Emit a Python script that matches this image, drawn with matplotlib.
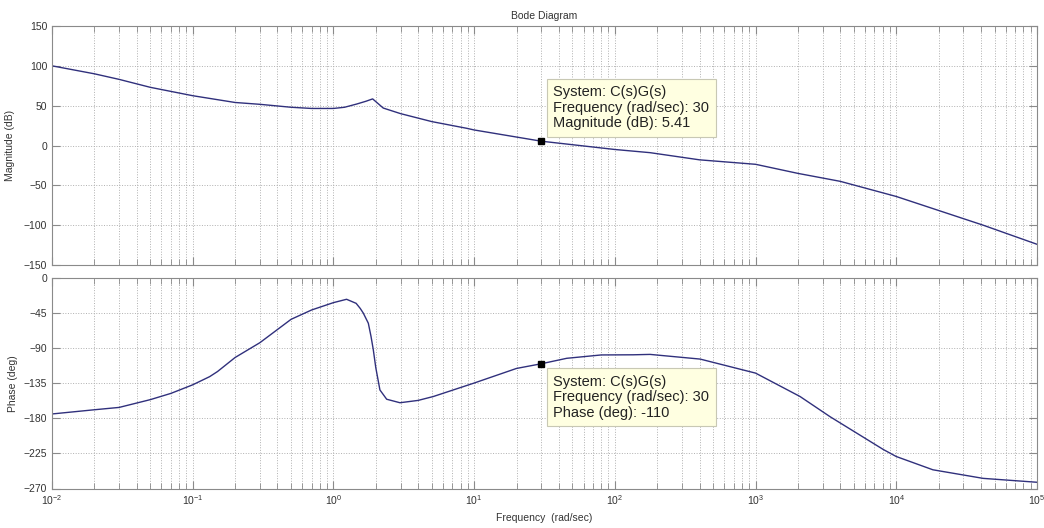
import matplotlib
matplotlib.use("Agg")
import matplotlib.pyplot as plt
from matplotlib.ticker import FixedLocator, NullFormatter

plt.rcParams['font.family'] = ['Liberation Sans', 'DejaVu Sans']
plt.rcParams['mathtext.fontset'] = 'custom'
plt.rcParams['mathtext.rm'] = 'Liberation Sans'
plt.rcParams['mathtext.it'] = 'Liberation Sans'

# magnitude
mag_freq = [0.01, 0.02, 0.03, 0.05, 0.1, 0.2, 0.3, 0.5, 0.7, 1.0, 1.2, 1.46, 1.7, 1.9,
            2.26, 3.0, 5.0, 8.85, 10, 30, 100, 178, 400, 1000, 2000, 4000, 10000,
            41400, 100000]
mag_db = [100, 90, 83, 73, 62.5, 54, 51.7, 48, 46.5, 46.5, 48, 52, 55.5, 58.5,
          47, 40, 30, 21.6, 19.5, 5.41, -5, -9, -18, -23.6, -35, -45, -64,
          -100, -124]

# phase
ph_freq = [0.01, 0.02, 0.03, 0.05, 0.07, 0.1, 0.132, 0.15, 0.2, 0.3, 0.5, 0.7, 1.0,
           1.24, 1.45, 1.55, 1.63, 1.77, 1.85, 1.92, 2.0, 2.14, 2.39, 2.97, 4.0, 5.13,
           9.9, 20, 30, 45.5, 80, 135, 178, 404, 1000, 2070, 3390, 8090, 10000,
           18200, 41400, 100000]
ph_deg = [-174.4, -169, -166, -156, -148, -137, -126.5, -120, -102, -83, -53, -41, -31.6,
          -27.3, -32.5, -39, -45, -58, -75, -92, -115, -143.6, -155.5, -160, -157, -152,
          -135, -116, -110, -103, -98.7, -98.5, -98, -104, -122, -152, -178, -220, -229,
          -246, -257, -262]

decades = [-2, -1, 0, 1, 2, 3, 4]
xtick_labels = [r'$10^{%d}$' % d for d in decades + [5]]

tip_freq = 30
tip_mag = 5.41
tip_phase = -110

line_col = '#30307c'
txt_col = '#333333'
edge_col = '#8a8a8a'

major_x = [10.0 ** d for d in decades + [5]]
minor_x = [k * 10.0 ** d for d in decades for k in range(2, 10)]

fig = plt.figure(figsize=(10.44, 5.28), dpi=100)
ax1 = fig.add_axes([52/1044, 1-265/528, 985/1044, 239/528])
ax2 = fig.add_axes([52/1044, 1-488.5/528, 985/1044, 210.5/528])

for ax in (ax1, ax2):
    ax.set_xscale('log')
    ax.set_xlim(1e-2, 1e5)
    ax.xaxis.set_major_locator(FixedLocator(major_x))
    ax.xaxis.set_minor_locator(FixedLocator(minor_x))
    ax.xaxis.set_minor_formatter(NullFormatter())
    ax.grid(True, which='major', axis='both', linestyle=':', color='#b0b0b0', linewidth=0.7)
    ax.grid(True, which='minor', axis='x', linestyle=':', color='#b0b0b0', linewidth=0.7)
    ax.tick_params(which='both', direction='in', top=True, right=True,
                   colors=edge_col, labelcolor=txt_col, labelsize=7.5)
    ax.tick_params(which='major', length=6)
    ax.tick_params(which='minor', length=4)
    for s in ax.spines.values():
        s.set_color(edge_col)

ax1.plot(mag_freq, mag_db, color=line_col, linewidth=1.0)
ax1.set_ylim(-150, 150)
ax1.set_yticks(range(-150, 151, 50))
ax1.tick_params(labelbottom=False)
ax1.set_ylabel('Magnitude (dB)', fontsize=7.5, color=txt_col, labelpad=6)
ax1.set_title('Bode Diagram', fontsize=7.5, color=txt_col, pad=5)

ax2.plot(ph_freq, ph_deg, color=line_col, linewidth=1.0)
ax2.set_ylim(-270, 0)
ax2.set_yticks(range(-270, 1, 45))
ax2.set_xticklabels(xtick_labels)
ax2.set_ylabel('Phase (deg)', fontsize=7.5, color=txt_col, labelpad=4)
ax2.set_xlabel('Frequency  (rad/sec)', fontsize=7.5, color=txt_col, labelpad=4)

box = dict(boxstyle='square,pad=0.45', facecolor='#ffffe1', edgecolor='#c8c8b4', linewidth=0.8)

ax1.plot([tip_freq], [tip_mag], marker='s', color='black', markersize=5, zorder=5)
ax1.annotate('System: C(s)G(s)\nFrequency (rad/sec): 30\nMagnitude (dB): 5.41',
             xy=(tip_freq, tip_mag), xytext=(8.5, 8), textcoords='offset points',
             fontsize=10.5, color='#222222', va='bottom', ha='left', bbox=box,
             linespacing=1.12, zorder=6)

ax2.plot([tip_freq], [tip_phase], marker='s', color='black', markersize=5, zorder=5)
ax2.annotate('System: C(s)G(s)\nFrequency (rad/sec): 30\nPhase (deg): -110',
             xy=(tip_freq, tip_phase), xytext=(8.5, -8), textcoords='offset points',
             fontsize=10.5, color='#222222', va='top', ha='left', bbox=box,
             linespacing=1.12, zorder=6)

fig.savefig('out.png', dpi=100)
